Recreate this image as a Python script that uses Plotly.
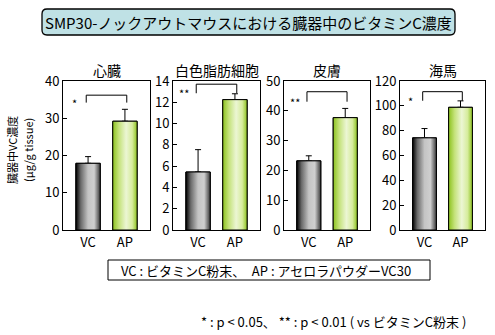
import plotly.graph_objects as go

# Vitamin C content per organ (μg/g tissue), mean and upper SD
organs = ["心臓", "白色脂肪細胞", "皮膚", "海馬"]
groups = ["VC", "AP"]
vc_mean = [17.9, 5.45, 23.2, 74.2]
vc_err = [1.8, 2.1, 1.7, 7.5]
ap_mean = [29.2, 12.25, 37.7, 98.8]
ap_err = [3.2, 0.55, 3.1, 5.2]
y_max = [40, 14, 50, 120]
y_dtick = [10, 2, 10, 20]
signif = ["*", "**", "**", "*"]
bracket_top = [36.2, 13.7, 46.4, 111.4]
bracket_leg = [34.2, 12.85, 43.05, 104.1]

W, H = 495, 335
FONT = "Noto Sans CJK JP, Liberation Sans, sans-serif"
panel_px = [(63, 150), (173, 260), (284, 370), (400, 485)]
plot_top, plot_bottom = 81, 230
bar_w = 0.66
x_range = [-0.68, 1.68]

gray_scale = [[0, "#000000"], [0.2, "#6a6a6a"], [0.5, "#c4c4c4"], [0.75, "#cfcfcf"], [1, "#3a3a3a"]]
green_scale = [[0, "#8cc21e"], [0.25, "#c4e27a"], [0.55, "#ecf6d4"], [0.8, "#d6ec9c"], [1, "#8cc21e"]]


def px(x):
    return x / W


def py(y):
    return (H - y) / H


def note(x, y, text, size=12, **kw):
    d = dict(x=px(x), y=py(y), xref="paper", yref="paper", text=text,
             showarrow=False, xanchor="center", yanchor="middle",
             font=dict(size=size, family=FONT))
    d.update(kw)
    return d


fig = go.Figure()
layout = dict(
    width=W, height=H, margin=dict(l=0, r=0, t=0, b=0, autoexpand=False),
    paper_bgcolor="white", plot_bgcolor="white", showlegend=False,
    font=dict(family=FONT, color="black", size=12),
)
annotations = []
shapes = []

ydom = [py(plot_bottom), py(plot_top)]
for i, organ in enumerate(organs):
    n = "" if i == 0 else str(i + 1)
    xa, ya = "x" + n, "y" + n
    x0p, x1p = panel_px[i]
    layout["xaxis" + n] = dict(
        domain=[px(x0p), px(x1p)], range=x_range, anchor=ya,
        tickmode="array", tickvals=[0, 1], ticktext=groups, ticks="",
        showline=True, mirror=True, linecolor="black", linewidth=1,
        showgrid=False, zeroline=False, fixedrange=True,
        tickfont=dict(size=13, family=FONT),
    )
    layout["yaxis" + n] = dict(
        domain=ydom, range=[0, y_max[i]], anchor=xa, dtick=y_dtick[i],
        ticks="inside", ticklen=4, tickcolor="black",
        showline=True, mirror=True, linecolor="black", linewidth=1,
        showgrid=False, zeroline=False, fixedrange=True,
        tickfont=dict(size=13, family=FONT),
    )
    means = [vc_mean[i], ap_mean[i]]
    errs = [vc_err[i], ap_err[i]]
    # bars with upward error bars
    fig.add_trace(go.Bar(
        x=[0, 1], y=means, width=bar_w, xaxis=xa, yaxis=ya,
        marker=dict(color=["#9a9a9a", "#c8e58a"], line=dict(color="black", width=1)),
        error_y=dict(type="data", array=errs, arrayminus=[0, 0], symmetric=False,
                     color="black", thickness=1, width=3),
        hoverinfo="skip",
    ))
    # gradient face drawn over each bar
    for j, (m, scale) in enumerate(zip(means, [gray_scale, green_scale])):
        xl, xr = j - bar_w / 2, j + bar_w / 2
        fig.add_trace(go.Scatter(
            x=[xl, xr, xr, xl, xl], y=[0, 0, m, m, 0], xaxis=xa, yaxis=ya,
            mode="lines", fill="toself",
            fillgradient=dict(type="horizontal", colorscale=scale),
            line=dict(color="black", width=1), hoverinfo="skip",
        ))
    # significance bracket
    bl, br = -0.05, 1.05
    fig.add_trace(go.Scatter(
        x=[bl, bl, br, br], y=[bracket_leg[i], bracket_top[i], bracket_top[i], bracket_leg[i]],
        xaxis=xa, yaxis=ya, mode="lines", line=dict(color="black", width=1),
        hoverinfo="skip",
    ))
    annotations.append(dict(
        x=-0.38, y=bracket_leg[i], xref=xa, yref=ya, text=signif[i],
        showarrow=False, font=dict(size=11, family=FONT),
        xanchor="center", yanchor="middle",
    ))
    # organ title
    annotations.append(note((x0p + x1p) / 2, 70, organ, size=14))

# y-axis title (two rotated lines)
annotations.append(note(12, 150, "臓器中VC濃度", size=11, textangle=-90))
annotations.append(note(28, 150, "(μg/g tissue)", size=11, textangle=-90))

# heading box with rounded corners
bx0, bx1, by0, by1, r = 42, 455, 9, 35, 5
path = (f"M {px(bx0 + r)} {py(by0)} L {px(bx1 - r)} {py(by0)} "
        f"Q {px(bx1)} {py(by0)} {px(bx1)} {py(by0 + r)} L {px(bx1)} {py(by1 - r)} "
        f"Q {px(bx1)} {py(by1)} {px(bx1 - r)} {py(by1)} L {px(bx0 + r)} {py(by1)} "
        f"Q {px(bx0)} {py(by1)} {px(bx0)} {py(by1 - r)} L {px(bx0)} {py(by0 + r)} "
        f"Q {px(bx0)} {py(by0)} {px(bx0 + r)} {py(by0)} Z")
shapes.append(dict(type="path", path=path, xref="paper", yref="paper",
                   fillcolor="#bfe1e5", line=dict(color="black", width=1.3)))
annotations.append(note((bx0 + bx1) / 2, (by0 + by1) / 2,
                        "SMP30-ノックアウトマウスにおける臓器中のビタミンC濃度", size=15))

# group key box
shapes.append(dict(type="rect", xref="paper", yref="paper",
                   x0=px(108), x1=px(430), y0=py(280), y1=py(260),
                   line=dict(color="black", width=1), fillcolor="white"))
annotations.append(note(266, 270, "VC : ビタミンC粉末、　AP : アセロラパウダーVC30", size=13))

# significance note
annotations.append(note(468, 321, "* : p < 0.05、 ** : p < 0.01 ( vs ビタミンC粉末 )",
                        size=13, xanchor="right"))

layout["annotations"] = annotations
layout["shapes"] = shapes
fig.update_layout(**layout)
fig.write_html("out.html")
